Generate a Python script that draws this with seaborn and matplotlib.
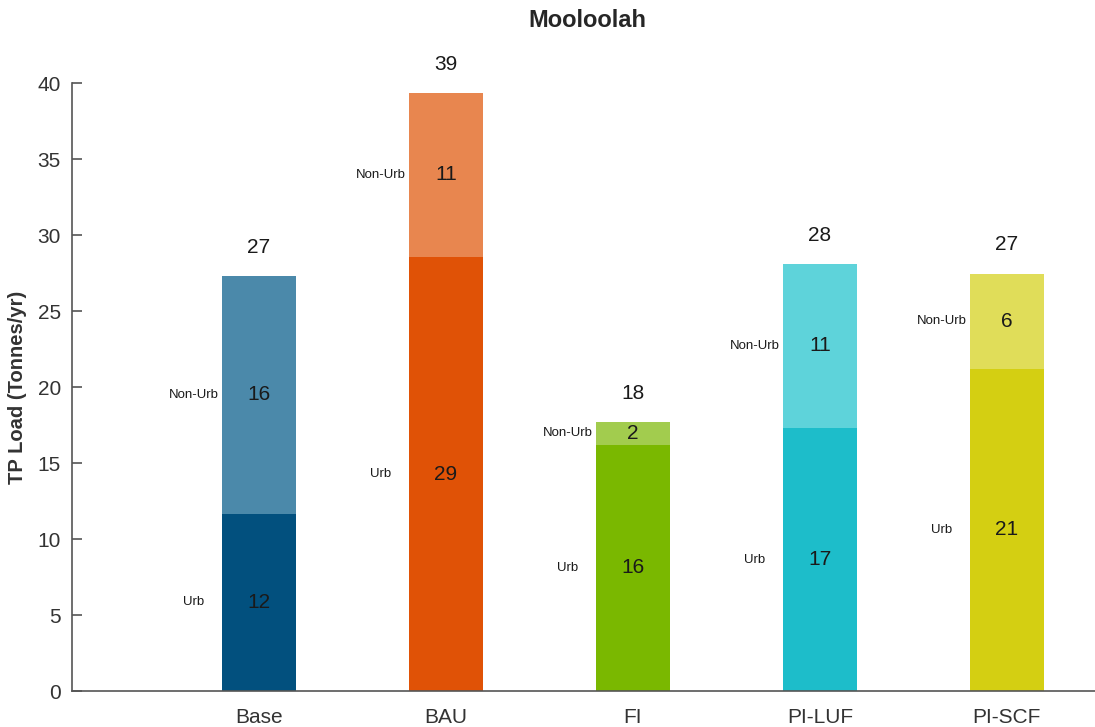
import matplotlib
matplotlib.use("Agg")
import matplotlib.pyplot as plt
import seaborn as sns
import pandas as pd

# Data (Tonnes/yr)
scenarios = ["Base", "BAU", "FI", "PI-LUF", "PI-SCF"]
urb = [11.65, 28.55, 16.2, 17.3, 21.2]
non_urb = [15.65, 10.8, 1.5, 10.8, 6.25]

urb_colors = ["#02507e", "#e05206", "#7ab800", "#1dbdca", "#d4cf12"]
non_urb_colors = ["#4b89aa", "#e8864f", "#a2cc4e", "#5ed3da", "#e0dd59"]

df = pd.DataFrame({"Scenario": scenarios, "Urb": urb, "NonUrb": non_urb})
df["Total"] = df["Urb"] + df["NonUrb"]

sns.set_theme(style="white")
plt.rcParams["font.family"] = ["Liberation Sans", "DejaVu Sans"]

fig = plt.figure(figsize=(10.95, 7.27), dpi=100)
ax = fig.add_axes([0.0658, 0.0495, 0.934, 0.8363])

# Stacked bars: totals in the light colour, urban part drawn on top
sns.barplot(data=df, x="Scenario", y="Total", hue="Scenario", palette=non_urb_colors,
            width=0.4, saturation=1, legend=False, linewidth=0, ax=ax)
sns.barplot(data=df, x="Scenario", y="Urb", hue="Scenario", palette=urb_colors,
            width=0.4, saturation=1, legend=False, linewidth=0, ax=ax)

for i, row in df.iterrows():
    # segment values
    ax.text(i, row["Urb"] / 2, f"{round(row['Urb'])}", ha="center", va="center",
            fontsize=15, color="#1a1a1a")
    ax.text(i, row["Urb"] + row["NonUrb"] / 2, f"{round(row['NonUrb'])}", ha="center",
            va="center", fontsize=15, color="#1a1a1a")
    # side labels
    ax.text(i - 0.35, row["Urb"] / 2, "Urb", ha="center", va="center", fontsize=9.5,
            color="#1a1a1a")
    ax.text(i - 0.35, row["Urb"] + row["NonUrb"] / 2, "Non-Urb", ha="center",
            va="center", fontsize=9.5, color="#1a1a1a")
    # total
    ax.text(i, row["Total"] + 1.9, f"{round(row['Total'])}", ha="center", va="center",
            fontsize=15, color="#1a1a1a")

ax.set_xlim(-1, 4.47)
ax.set_ylim(0, 40)
ax.set_yticks(range(0, 41, 5))
ax.set_xlabel("")
ax.set_ylabel("TP Load (Tonnes/yr)", fontsize=14.5, fontweight="bold", color="#333333")
ax.yaxis.set_label_coords(-0.044, 0.5)

ax.tick_params(axis="y", left=True, direction="in", length=7, width=1.2, color="#555555",
               labelsize=15, labelcolor="#333333", pad=8)
ax.tick_params(axis="x", bottom=False, length=0, labelsize=15, labelcolor="#333333", pad=12)

for side in ["top", "right"]:
    ax.spines[side].set_visible(False)
for side in ["left", "bottom"]:
    ax.spines[side].set_color("#555555")
    ax.spines[side].set_linewidth(1.2)

fig.suptitle("Mooloolah", x=0.536, y=0.972, va="center", fontsize=17, fontweight="bold")

fig.savefig("out.png", dpi=100)
plt.close()
